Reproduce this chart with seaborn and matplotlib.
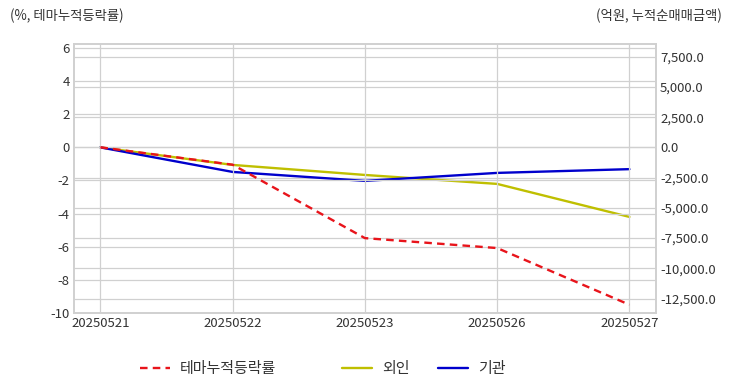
import matplotlib
matplotlib.use("Agg")
import matplotlib.pyplot as plt
import matplotlib.ticker as mticker
import numpy as np
import pandas as pd
import seaborn as sns

dates = ["20250521", "20250522", "20250523", "20250526", "20250527"]
theme_rate = [0.0, -1.05, -5.48, -6.08, -9.5]          # %, left axis
foreign = [0.0, -1450.0, -2280.0, -3020.0, -5750.0]    # 억원, right axis
institution = [0.0, -2030.0, -2770.0, -2110.0, -1800.0]

sns.set_theme(style="white")
plt.rcParams['font.family'] = ['Noto Sans CJK KR', 'DejaVu Sans']
plt.rcParams['axes.unicode_minus'] = False

df = pd.DataFrame({"idx": range(len(dates)), "date": dates,
                   "theme": theme_rate, "foreign": foreign, "inst": institution})

fig = plt.figure(figsize=(7.32, 3.92), dpi=100)
ax = fig.add_axes([0.101, 0.2015, 0.795, 0.6865])
ax2 = ax.twinx()

grid_c = "#d0d0d0"
txt_c = "#333333"

sns.lineplot(data=df, x="idx", y="theme", ax=ax, color="#e8141b", linewidth=1.7,
             label="테마누적등락률", legend=False)
ax.lines[0].set_dashes((3.2, 2.2))
sns.lineplot(data=df, x="idx", y="foreign", ax=ax2, color="#bfbf00", linewidth=1.7,
             label="외인", legend=False)
sns.lineplot(data=df, x="idx", y="inst", ax=ax2, color="#0000cc", linewidth=1.7,
             label="기관", legend=False)
ax.set_zorder(ax2.get_zorder() + 1)
ax.patch.set_visible(False)

ax.set_xlim(-0.2, 4.2)
ax.set_ylim(-10, 6.24)
ax2.set_ylim(-13700, 8560)
ax.set_yticks(np.arange(-10, 7, 2))
ax2.set_yticks(np.arange(-12500, 7501, 2500))
ax2.yaxis.set_major_formatter(mticker.FuncFormatter(lambda v, p: f"{v:,.1f}"))
ax.set_xticks(df["idx"])
ax.set_xticklabels(dates)

for a in (ax, ax2):
    a.set_xlabel("")
    a.set_ylabel("")
    a.tick_params(length=0, labelsize=9.5, colors=txt_c, pad=3)
    for s in a.spines.values():
        s.set_color(grid_c)
        s.set_linewidth(1.2)
ax.grid(True, color=grid_c, linewidth=0.9)
ax2.yaxis.grid(True, color=grid_c, linewidth=0.9)
ax2.set_axisbelow(True)

fig.text(10 / 732, 1 - 16 / 392, "(%, 테마누적등락률)", fontsize=9.6, color=txt_c,
         ha="left", va="center")
fig.text(722 / 732, 1 - 16 / 392, "(억원, 누적순매매금액)", fontsize=9.6, color=txt_c,
         ha="right", va="center")

leg_kw = dict(frameon=False, fontsize=10.8, handlelength=2.0, handletextpad=0.67,
              borderpad=0, borderaxespad=0, labelcolor=txt_c, loc="center left")
fig.legend(ax.get_lines()[:1], ["테마누적등락률"],
           bbox_to_anchor=(140 / 732, 1 - 369 / 392), **leg_kw)
fig.legend(ax2.get_lines()[:2], ["외인", "기관"], ncol=2, columnspacing=1.9,
           bbox_to_anchor=(342 / 732, 1 - 369 / 392), **leg_kw)

fig.savefig("out.png", dpi=100)
